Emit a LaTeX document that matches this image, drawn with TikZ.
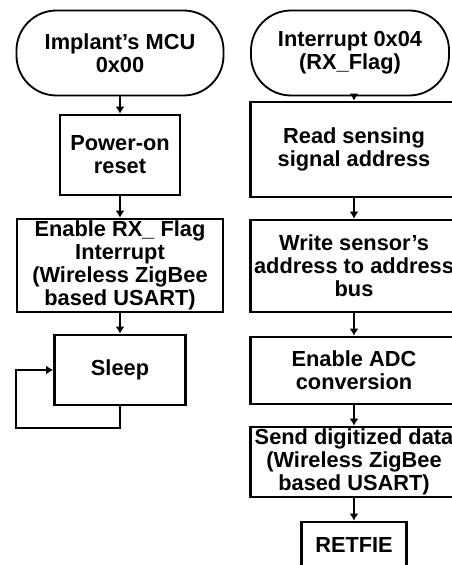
\documentclass[tikz,border=0pt]{standalone}
\usepackage{fontspec}
\setmainfont{Liberation Sans}
\usetikzlibrary{arrows.meta}
\begin{document}
\begin{tikzpicture}
	\tikzstyle{every node}=[font=\bfseries\fontsize{15.5}{16.5}\selectfont, align=center, inner sep=1pt]
	\tikzstyle{term}=[draw, line width=1.3pt, rounded corners=1cm, minimum height=2.125cm]
	\tikzstyle{proc}=[draw, line width=2pt]
	\tikzstyle{link}=[line width=1.6pt, -{Latex[length=5pt,width=6.5pt]}]
	
	\useasboundingbox (0,0) rectangle (11.3,-14.125);
	
	% main program
	\node[term, minimum width=5.175cm] (mcu) at (3,-1.325) {Implant's MCU\\0x00};
	\node[proc, minimum width=3cm, minimum height=2cm] (reset) at (3,-3.875) {Power-on\\reset};
	\node[proc, minimum width=5.15cm, minimum height=2.325cm] (enrx) at (3,-6.6375) {Enable RX\_ Flag\\Interrupt\\(Wireless ZigBee\\based USART)};
	\node[proc, minimum width=3.275cm, minimum height=1.75cm] (sleep) at (3,-9.25) {Sleep};
	\coordinate (loop) at (0.4,-10.7);
	
	\draw[link] (mcu.south) -- (reset.north);
	\draw[link] (reset.south) -- (enrx.north);
	\draw[link] (enrx.south) -- (sleep.north);
	\draw[link] (sleep.south) |- (loop) |- (sleep.west);
	
	% interrupt routine
	\node[term, minimum width=4.95cm] (intr) at (8.75,-1.325) {Interrupt 0x04\\(RX\_Flag)};
	\node[proc, minimum width=5.175cm, minimum height=2.375cm] (read) at (8.85,-3.7375) {Read sensing\\signal address};
	\node[proc, minimum width=5.175cm, minimum height=2.3cm] (write) at (8.85,-6.65) {Write sensor's\\address to address\\bus};
	\node[proc, minimum width=5.175cm, minimum height=1.675cm] (adc) at (8.85,-9.2625) {Enable ADC\\conversion};
	\node[proc, minimum width=5.175cm, minimum height=1.75cm] (send) at (8.85,-11.55) {Send digitized data\\(Wireless ZigBee\\based USART)};
	\node[proc, minimum width=2.625cm, minimum height=1.15cm] (retfie) at (8.85,-13.625) {RETFIE};
	
	\draw[link] (intr.south -| read.north) -- (read.north);
	\draw[link] (read.south) -- (write.north);
	\draw[link] (write.south) -- (adc.north);
	\draw[link] (adc.south) -- (send.north);
	\draw[link] (send.south) -- (retfie.north);
	
\end{tikzpicture}
\end{document}
